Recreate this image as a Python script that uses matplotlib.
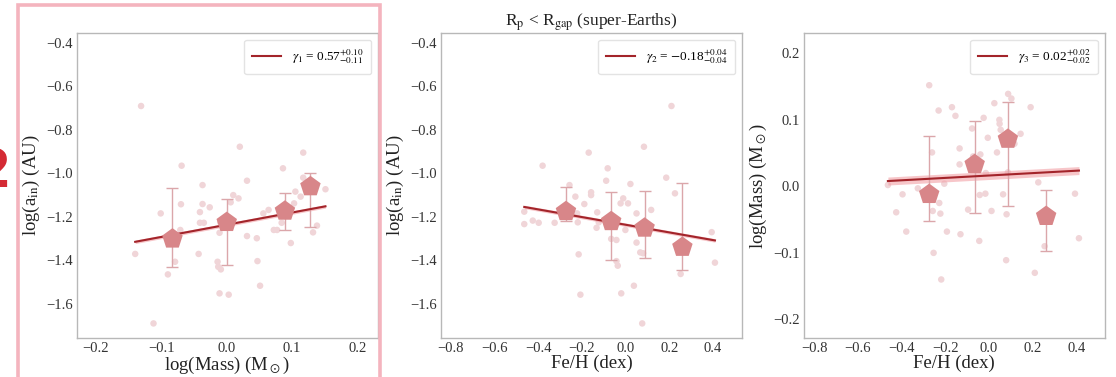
import matplotlib
matplotlib.use('Agg')
import matplotlib.pyplot as plt
import numpy as np
from matplotlib.patches import Rectangle

plt.rcParams['font.family'] = ['Liberation Serif', 'DejaVu Serif']
plt.rcParams['mathtext.fontset'] = 'stix'

# ---- panel 1 : log(a_in) vs log(Mass)
mass1 = [-0.131, 0.020, 0.117, -0.069, 0.086, 0.031, -0.037, 0.117, 0.151, 0.105,
         0.010, 0.018, 0.113, -0.070, -0.037, -0.026, 0.103, 0.056, 0.064, -0.101,
         -0.041, -0.041, -0.035, -0.010, 0.006, 0.084, -0.071, 0.072, 0.077, -0.011,
         0.031, 0.046, 0.138, 0.132, 0.098, -0.140, -0.043, -0.079, -0.014, -0.013,
         -0.009, 0.047, -0.090, 0.051, -0.011, 0.003, -0.112]
ain1 = [-0.691, -0.878, -0.905, -0.965, -0.977, -1.034, -1.054, -1.020, -1.073, -1.084,
        -1.100, -1.115, -1.107, -1.142, -1.141, -1.156, -1.138, -1.184, -1.168, -1.184,
        -1.178, -1.227, -1.227, -1.225, -1.133, -1.227, -1.260, -1.260, -1.260, -1.273,
        -1.288, -1.298, -1.240, -1.271, -1.320, -1.370, -1.370, -1.406, -1.406, -1.429,
        -1.441, -1.403, -1.464, -1.516, -1.551, -1.557, -1.689]
bin_x1 = [-0.083, 0.000, 0.089, 0.128]
bin_y1 = [-1.301, -1.225, -1.173, -1.061]
bin_hi1 = [-1.069, -1.118, -1.092, -0.997]
bin_lo1 = [-1.429, -1.422, -1.260, -1.248]
fit1 = (0.56, -1.236)

# ---- panel 2 : log(a_in) vs Fe/H
feh2 = [0.210, 0.084, -0.169, -0.380, -0.082, -0.089, 0.022, -0.257, 0.186, 0.226,
        -0.158, -0.158, -0.230, -0.011, -0.023, 0.011, -0.189, 0.117, -0.130, 0.050,
        -0.222, -0.464, -0.425, -0.398, -0.325, -0.219, -0.123, -0.464, -0.133, -0.001,
        -0.066, -0.042, 0.050, 0.394, 0.409, 0.067, -0.042, -0.036, -0.215, 0.080,
        0.252, 0.038, -0.020, -0.207, 0.076]
ain2 = [-0.691, -0.878, -0.905, -0.965, -0.977, -1.034, -1.049, -1.054, -1.020, -1.092,
        -1.087, -1.100, -1.107, -1.115, -1.138, -1.138, -1.141, -1.168, -1.179, -1.184,
        -1.184, -1.176, -1.217, -1.227, -1.227, -1.225, -1.225, -1.233, -1.250, -1.260,
        -1.301, -1.306, -1.318, -1.270, -1.410, -1.363, -1.403, -1.424, -1.372, -1.367,
        -1.462, -1.516, -1.551, -1.557, -1.689]
bin_x2 = [-0.273, -0.066, 0.087, 0.260]
bin_y2 = [-1.175, -1.221, -1.251, -1.339]
bin_hi2 = [-1.065, -1.086, -1.083, -1.045]
bin_lo2 = [-1.221, -1.397, -1.389, -1.443]
fit2 = (-0.176, -1.236)

# ---- panel 3 : log(Mass) vs Fe/H
feh3 = [-0.273, -0.230, -0.169, -0.153, -0.024, 0.025, 0.088, 0.103, 0.191, 0.048,
        0.049, 0.054, -0.005, 0.145, 0.117, -0.134, -0.077, -0.260, -0.039, 0.037,
        -0.134, -0.072, -0.014, 0.087, 0.226, -0.204, -0.462, -0.325, -0.395, -0.042,
        -0.016, 0.065, 0.394, -0.227, -0.257, -0.222, -0.424, -0.095, 0.012, 0.081,
        -0.378, -0.192, -0.130, -0.044, 0.412, 0.255, -0.253, 0.079, 0.210, -0.218]
mass3 = [0.152, 0.114, 0.119, 0.106, 0.103, 0.125, 0.139, 0.132, 0.119, 0.100,
         0.094, 0.085, 0.073, 0.079, 0.064, 0.057, 0.087, 0.051, 0.048, 0.051,
         0.033, 0.045, 0.020, 0.021, 0.006, 0.004, 0.002, -0.003, -0.012, -0.013,
         -0.011, -0.012, -0.011, -0.025, -0.037, -0.041, -0.039, -0.035, -0.037, -0.042,
         -0.068, -0.068, -0.072, -0.082, -0.078, -0.090, -0.100, -0.111, -0.130, -0.140]
bin_x3 = [-0.273, -0.065, 0.087, 0.262]
bin_y3 = [-0.012, 0.033, 0.071, -0.045]
bin_hi3 = [0.076, 0.098, 0.127, -0.006]
bin_lo3 = [-0.052, -0.040, -0.029, -0.097]
fit3 = (0.018, 0.0163)

legend_txt = [r'$\gamma_1$ = 0.57$^{+0.10}_{-0.11}$',
              r'$\gamma_2$ = $-$0.18$^{+0.04}_{-0.04}$',
              r'$\gamma_3$ = 0.02$^{+0.02}_{-0.02}$']
band_hw = [0.008, 0.008, 0.006]

c_pt = '#f0d5d8'
c_bin = '#d88689'
c_err = '#dba6aa'
c_line = '#a3242a'
c_band = '#f2a0a6'

fig = plt.figure(figsize=(11.16, 3.77), dpi=100)
lefts = [0.069, 0.3952, 0.7204]
axs = [fig.add_axes([l, 0.1034, 0.2695, 0.809]) for l in lefts]

panels = [(mass1, ain1, bin_x1, bin_y1, bin_hi1, bin_lo1, fit1),
          (feh2, ain2, bin_x2, bin_y2, bin_hi2, bin_lo2, fit2),
          (feh3, mass3, bin_x3, bin_y3, bin_hi3, bin_lo3, fit3)]

for i, (ax, p) in enumerate(zip(axs, panels)):
    x, y, bx, by, bhi, blo = [np.asarray(v) for v in p[:6]]
    m, b = p[6]
    ax.scatter(x, y, s=22, color=c_pt, edgecolors='none', zorder=1)
    xx = np.linspace(x.min(), x.max(), 50)
    yy = m * xx + b
    ax.fill_between(xx, yy - band_hw[i], yy + band_hw[i], color=c_band, alpha=0.6, lw=0, zorder=2)
    ax.plot(xx, yy, color=c_line, lw=1.5, zorder=3, label=legend_txt[i])
    ax.errorbar(bx, by, yerr=[by - blo, bhi - by], fmt='none', ecolor=c_err,
                elinewidth=1.0, capsize=4, capthick=1.0, zorder=2)
    ax.scatter(bx, by, marker='p', s=240, color=c_bin, edgecolors='none', zorder=4)
    leg = ax.legend(loc='upper right', fontsize=9.5, frameon=True, fancybox=True,
                    handlelength=2.2, borderpad=0.6, handletextpad=0.8)
    leg.get_frame().set_edgecolor('#dddddd')
    for s in ax.spines.values():
        s.set_color('#b8b8b8')
        s.set_linewidth(1.0)
    ax.tick_params(length=0, labelsize=10.5, colors='#333333', pad=3)

axs[0].set_xlim(-0.229, 0.231)
axs[0].set_xticks([-0.2, -0.1, 0.0, 0.1, 0.2])
axs[1].set_xlim(-0.845, 0.532)
axs[2].set_xlim(-0.846, 0.53)
for ax in axs[1:]:
    ax.set_xticks([-0.8, -0.6, -0.4, -0.2, 0.0, 0.2, 0.4])
for ax in axs[:2]:
    ax.set_ylim(-1.756, -0.356)
    ax.set_yticks([-1.6, -1.4, -1.2, -1.0, -0.8, -0.6, -0.4])
axs[2].set_ylim(-0.228, 0.2305)
axs[2].set_yticks([-0.2, -0.1, 0.0, 0.1, 0.2])

lab = dict(fontsize=13.5, color='#222222')
axs[0].set_xlabel(r'log(Mass) (M$_\odot$)', labelpad=0, **lab)
axs[0].set_ylabel(r'log(a$_{\rm in}$) (AU)', labelpad=3, **lab)
axs[1].set_xlabel('Fe/H (dex)', labelpad=0, **lab)
axs[1].set_ylabel(r'log(a$_{\rm in}$) (AU)', labelpad=3, **lab)
axs[2].set_xlabel('Fe/H (dex)', labelpad=0, **lab)
axs[2].set_ylabel(r'log(Mass) (M$_\odot$)', labelpad=3, **lab)
axs[1].set_title(r'R$_{\rm p}$ < R$_{\rm gap}$ (super-Earths)', fontsize=12.5,
                 color='#222222', pad=5)

# highlight frame around first panel and the cropped red label
fig.patches.append(Rectangle((18 / 1116, -0.02), 362 / 1116, 1.0 - 5 / 377 + 0.02,
                             transform=fig.transFigure, fill=False,
                             edgecolor='#f4b4be', lw=2.6))
fig.text(12 / 1116, 1 - 172 / 377, '2', ha='right', va='center', fontsize=38,
         fontweight='bold', color='#d42a34', family='DejaVu Sans')

fig.savefig('out.png', dpi=100)
